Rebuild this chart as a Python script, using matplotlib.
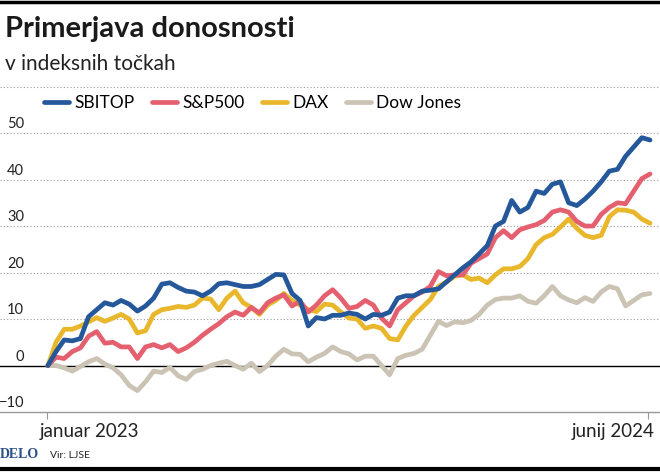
import matplotlib
matplotlib.use("Agg")
import matplotlib.pyplot as plt
import matplotlib.dates as mdates
import matplotlib.transforms as mtransforms
import pandas as pd

# weekly points, values in index points (change vs. start)
dates = pd.date_range("2023-01-02", periods=75, freq="7D")

sbitop = [0, 3.0, 5.5, 5.3, 5.8, 10.5, 12.0, 13.5, 13.0, 14.0,
          13.2, 11.7, 12.8, 14.5, 17.5, 17.8, 16.8, 16.0, 15.8, 15.0,
          16.0, 17.6, 17.8, 17.4, 17.0, 17.0, 17.4, 18.5, 19.6, 19.5,
          15.5, 14.0, 8.5, 10.3, 10.0, 10.8, 10.8, 11.3, 11.0, 10.0,
          11.0, 10.8, 11.5, 14.5, 15.0, 15.0, 16.0, 16.2, 16.5, 18.0,
          19.5, 21.0, 22.3, 24.0, 25.8, 30.0, 31.0, 35.5, 33.0, 34.0,
          37.5, 37.0, 39.0, 39.5, 35.0, 34.4, 35.8, 37.5, 39.5, 41.8,
          42.2, 45.0, 47.0, 49.0, 48.5]
sp500 = [0, 1.8, 1.5, 3.0, 3.8, 6.3, 7.3, 4.8, 5.0, 4.0,
         4.0, 1.5, 4.0, 4.5, 3.8, 4.5, 3.0, 3.8, 5.0, 6.5,
         7.8, 9.0, 10.5, 11.5, 10.8, 12.5, 11.3, 13.5, 14.5, 15.2,
         12.8, 13.8, 11.5, 13.0, 15.0, 16.3, 14.5, 12.3, 12.7, 14.0,
         13.0, 10.2, 8.5, 12.0, 13.5, 15.0, 15.8, 17.0, 20.2, 19.3,
         19.5, 19.5, 22.0, 23.0, 24.0, 27.5, 29.0, 27.5, 29.2, 29.8,
         30.3, 31.2, 33.0, 33.5, 33.0, 31.0, 30.0, 30.0, 32.5, 34.0,
         35.0, 34.8, 37.5, 40.2, 41.2]
dax = [0, 5.0, 7.8, 7.8, 8.5, 9.4, 10.3, 9.5, 10.2, 11.0,
       10.0, 7.0, 7.5, 11.0, 12.0, 12.3, 12.7, 12.5, 13.0, 14.5,
       14.3, 12.0, 14.5, 16.0, 13.5, 12.5, 11.0, 13.0, 14.0, 15.5,
       14.0, 13.0, 12.0, 11.6, 13.2, 13.0, 11.5, 10.2, 10.0, 8.0,
       8.5, 8.0, 5.8, 5.5, 8.5, 10.8, 12.5, 14.2, 17.0, 18.0,
       19.2, 19.5, 18.5, 18.8, 17.8, 19.5, 20.8, 20.8, 21.3, 23.0,
       26.0, 27.5, 28.2, 29.8, 31.5, 29.5, 28.0, 27.5, 28.0, 32.0,
       33.5, 33.4, 33.0, 31.5, 30.6]
dow = [0, 0.0, -0.5, -1.2, -0.2, 0.8, 1.5, 0.3, -0.5, -2.0,
       -4.3, -5.4, -3.5, -1.2, -1.5, -0.4, -2.2, -3.0, -1.3, -0.8,
       0.0, 0.5, 0.9, 0.0, -0.8, 0.5, -1.3, 0.0, 2.0, 3.5,
       2.5, 2.4, 0.8, 1.8, 2.6, 4.0, 3.0, 2.5, 1.2, 2.0,
       2.0, 0.0, -2.0, 1.5, 2.2, 2.6, 3.5, 6.5, 9.5, 8.6,
       9.4, 9.2, 9.7, 11.0, 13.0, 14.2, 14.5, 14.5, 15.0, 13.8,
       13.4, 15.0, 17.0, 15.0, 14.1, 13.5, 14.6, 13.8, 15.8, 17.0,
       16.5, 12.8, 14.0, 15.2, 15.5]

names = ["SBITOP", "S&P500", "DAX", "Dow Jones"]
colors = ["#24589a", "#e5606f", "#e9b72c", "#cbc3b3"]
yticks = [-10, 0, 10, 20, 30, 40, 50]

plt.rcParams["font.family"] = ["Lato", "DejaVu Sans"]

fig = plt.figure(figsize=(6.6, 4.72), dpi=100)
ax = fig.add_axes([0, 0.1271, 1, 0.6186])

t0 = mdates.date2num(pd.Timestamp("2023-01-01"))
ax.set_xlim(t0 - 40.2, t0 + 527.6)
ax.set_ylim(-10, 52.8)

for v in yticks[2:]:
    ax.axhline(v, color="#9a9a9a", lw=0.8, ls=(0, (1, 2)), zorder=1)
ax.axhline(0, color="black", lw=1.0, zorder=2)

series = [sbitop, sp500, dax, dow]
handles = []
for i in [3, 2, 1, 0]:
    ln, = ax.plot(dates, series[i], color=colors[i], lw=3.4,
                  solid_joinstyle="round", solid_capstyle="round", zorder=3 + (3 - i))
    handles.append(ln)
handles = handles[::-1]

trans = mtransforms.blended_transform_factory(ax.transAxes, ax.transData)
for v in yticks:
    lab = str(v).replace("-", "\u2212")
    ax.text(24 / 660, v + 1.0, lab, transform=trans, ha="right", va="baseline",
            fontsize=10.5, color="#222222")

for s in ["top", "right", "left"]:
    ax.spines[s].set_visible(False)
ax.spines["bottom"].set_color("#9a9a9a")
ax.spines["bottom"].set_linewidth(1.0)
ax.set_yticks([])
tick_dates = [pd.Timestamp("2023-01-01"), pd.Timestamp("2024-06-01")]
ax.set_xticks(tick_dates)
ax.set_xticklabels([])
ax.tick_params(axis="x", length=5, color="#9a9a9a", width=0.8)

tx = mtransforms.blended_transform_factory(ax.transData, ax.transAxes)
ax.text(mdates.date2num(tick_dates[0]) - 6, -0.0856, "januar 2023", transform=tx,
        ha="left", va="baseline", fontsize=13.5, color="#222222")
ax.text(mdates.date2num(tick_dates[1]) + 6, -0.0856, "junij 2024", transform=tx,
        ha="right", va="baseline", fontsize=13.5, color="#222222")

fig.text(0.008, 1 - 37 / 472, "Primerjava donosnosti", fontsize=21,
         fontweight="bold", color="#1a1a1a", va="baseline")
fig.text(0.008, 1 - 70 / 472, "v indeksnih točkah", fontsize=15,
         color="#222222", va="baseline")
fig.add_artist(plt.Line2D([0, 1], [1 - 87 / 472] * 2, color="#9a9a9a", lw=0.8,
                          ls=(0, (1, 2)), transform=fig.transFigure))

fig.legend(handles, names, loc="center left", bbox_to_anchor=(44 / 660, 1 - 103 / 472),
           ncol=4, frameon=False, fontsize=12.5, handlelength=1.45, handletextpad=0.3,
           columnspacing=1.0, borderpad=0, borderaxespad=0)

fig.text(0.0, 1 - 458 / 472, "DELO", fontsize=10, fontweight="bold",
         family="Liberation Serif", color="#2a4f8a", va="baseline")
fig.text(50 / 660, 1 - 458 / 472, "Vir: LJSE", fontsize=7.5, color="#222222",
         va="baseline")

fig.add_artist(plt.Line2D([0, 1], [1 - 1.5 / 472] * 2, color="black", lw=2.5,
                          transform=fig.transFigure))
fig.add_artist(plt.Line2D([0, 1], [1 - 469 / 472] * 2, color="black", lw=3,
                          transform=fig.transFigure))

fig.savefig("out.png", dpi=100)
